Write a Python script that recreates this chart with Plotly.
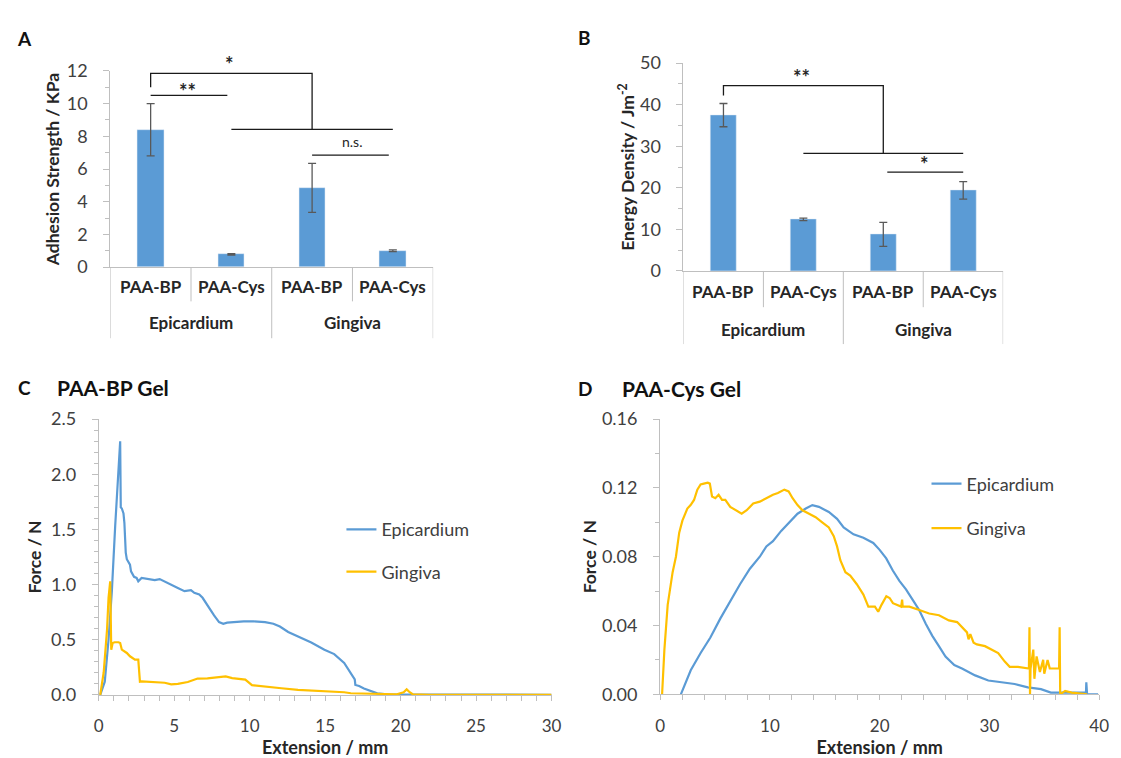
import plotly.graph_objects as go

W, H = 1121, 758
FONT = "Lato, Carlito, Calibri, sans-serif"
BLUE = "#5B9BD5"
GOLD = "#FFC000"
AXIS = "#BFBFBF"
TXT = "#404040"
DARK = "#262626"

# ---------------- data ----------------
subgroups = ["PAA-BP", "PAA-Cys", "PAA-BP", "PAA-Cys"]
groups = ["Epicardium", "Gingiva"]
adhesion_kpa = [8.4, 0.78, 4.85, 1.0]
adhesion_err = [1.6, 0.04, 1.5, 0.05]
energy_jm2 = [37.5, 12.4, 8.8, 19.4]
energy_err = [2.8, 0.3, 2.9, 2.1]

# Panel C (PAA-BP gel) force-extension curves
c_epi_x = [0.1, 0.4, 0.65, 0.87, 1.09, 1.27, 1.42, 1.46, 1.53, 1.64, 1.70, 1.75, 1.79, 1.86, 1.97,
           2.07, 2.14, 2.25, 2.34, 2.51, 2.62, 2.84, 3.27, 3.71, 4.04, 4.37, 4.80, 5.24, 5.68,
           6.11, 6.33, 6.66, 6.88, 7.20, 7.64, 7.97, 8.25, 8.51, 8.95, 9.60, 10.26, 11.02, 11.57,
           12.0, 12.55, 13.2, 14.08, 14.95, 15.6, 16.26, 16.7, 16.96, 17.0, 17.25, 17.57, 18.0,
           18.45, 19.1, 20.2, 21.9, 30.0]
c_epi_y = [0.0, 0.12, 0.50, 0.94, 1.53, 1.97, 2.30, 1.70, 1.69, 1.645, 1.56, 1.41, 1.29, 1.23, 1.20,
           1.18, 1.12, 1.09, 1.07, 1.06, 1.03, 1.06, 1.05, 1.04, 1.05, 1.03, 1.00, 0.97, 0.94,
           0.95, 0.925, 0.91, 0.88, 0.81, 0.72, 0.66, 0.645, 0.655, 0.66, 0.667, 0.667, 0.66, 0.645,
           0.62, 0.57, 0.53, 0.475, 0.41, 0.37, 0.29, 0.19, 0.14, 0.09, 0.08, 0.058, 0.035,
           0.014, 0.006, 0.006, 0.0, 0.0]
c_gin_x = [0.1, 0.33, 0.55, 0.65, 0.76, 0.83, 0.92, 1.05, 1.31, 1.42, 1.53, 1.86, 2.07, 2.40, 2.62,
           2.73, 2.84, 3.71, 4.37, 4.80, 5.24, 5.9, 6.55, 7.2, 7.86, 8.41, 8.84, 9.71, 10.15,
           11.46, 12.1, 13.2, 14.95, 16.26, 16.7, 19.75, 20.2, 20.4, 20.6, 20.8, 21.9, 30.0]
c_gin_y = [0.0, 0.205, 0.59, 0.88, 1.03, 0.41, 0.47, 0.477, 0.477, 0.47, 0.41, 0.38, 0.35, 0.32, 0.32,
           0.12, 0.122, 0.117, 0.11, 0.095, 0.10, 0.117, 0.148, 0.15, 0.16, 0.168, 0.152, 0.138, 0.088,
           0.073, 0.06, 0.045, 0.036, 0.024, 0.015, 0.006, 0.024, 0.05, 0.024, 0.006, 0.0, 0.0]

# Panel D (PAA-Cys gel) force-extension curves
d_epi_x = [1.89, 2.79, 3.69, 4.58, 5.48, 6.38, 7.28, 8.18, 9.08, 9.68, 10.28, 11.03, 11.78, 12.52,
           13.27, 13.87, 14.47, 15.37, 16.12, 16.72, 17.62, 18.52, 19.42, 20.0, 20.6, 21.2, 21.8,
           22.4, 23.0, 23.6, 24.2, 24.8, 25.4, 26.0, 26.8, 27.5, 28.7, 29.9, 31.1, 32.3, 33.5,
           34.7, 35.6, 37.1, 38.8, 38.83, 38.9, 39.9]
d_epi_y = [0.0, 0.014, 0.024, 0.033, 0.044, 0.054, 0.064, 0.073, 0.080, 0.086, 0.089, 0.095, 0.100,
           0.105, 0.108, 0.110, 0.109, 0.106, 0.102, 0.097, 0.093, 0.091, 0.088, 0.084, 0.079, 0.072,
           0.066, 0.061, 0.055, 0.049, 0.041, 0.034, 0.028, 0.022, 0.017, 0.015, 0.011, 0.008, 0.007,
           0.006, 0.004, 0.003, 0.001, 0.001, 0.001, 0.007, 0.0, 0.0]
d_gin_x = [0.18, 0.39, 0.69, 1.14, 1.44, 1.74, 2.03, 2.48, 2.78, 3.09, 3.39, 3.69, 3.98, 4.34, 4.53,
           4.73, 5.03, 5.33, 5.64, 5.94, 6.39, 6.98, 7.43, 7.89, 8.48, 9.08, 9.68, 10.28, 10.73,
           11.32, 11.71, 12.07, 12.52, 12.97, 13.57, 14.17, 14.77, 15.37, 15.82, 16.12, 16.42,
           16.88, 17.32, 17.92, 18.52, 18.97, 19.57, 19.87, 20.17, 20.61, 20.91, 21.21, 21.96,
           22.05, 22.1, 22.71, 23.61, 24.51, 25.41, 26.31, 27.06, 27.51, 27.96, 28.1, 28.26, 28.56,
           28.86, 29.6, 30.2, 30.8, 31.4, 31.85, 32.6, 33.3, 33.6, 33.65, 33.7, 33.75, 34.0, 34.1,
           34.3, 34.6, 34.9, 35.0, 35.3, 35.5, 35.9, 36.2, 36.35, 36.4, 36.45, 36.9, 37.5, 38.9]
d_gin_y = [0.0, 0.026, 0.052, 0.071, 0.080, 0.094, 0.101, 0.108, 0.110, 0.113, 0.119, 0.122, 0.1225,
           0.123, 0.1225, 0.115, 0.114, 0.116, 0.113, 0.113, 0.109, 0.107, 0.105, 0.107, 0.111, 0.112,
           0.114, 0.116, 0.117, 0.119, 0.118, 0.114, 0.110, 0.107, 0.105, 0.103, 0.100, 0.097, 0.092,
           0.086, 0.078, 0.071, 0.069, 0.064, 0.058, 0.051, 0.051, 0.048, 0.052, 0.057, 0.056, 0.053,
           0.051, 0.055, 0.051, 0.051, 0.049, 0.047, 0.046, 0.043, 0.042, 0.039, 0.036, 0.032, 0.035,
           0.030, 0.029, 0.028, 0.026, 0.024, 0.019, 0.016, 0.016, 0.015, 0.015, 0.039, 0.0, 0.015,
           0.026, 0.009, 0.022, 0.013, 0.020, 0.012, 0.020, 0.015, 0.015, 0.015, 0.015, 0.039, 0.0,
           0.002, 0.001, 0.0]

xpos = list(range(len(subgroups)))


def px(x):
    return x / W


def py(y):
    return 1 - y / H


fig = go.Figure()

# ---------------- bar panels ----------------
fig.add_trace(go.Bar(x=xpos, y=adhesion_kpa, width=0.33, marker_color=BLUE,
                     error_y=dict(type="data", array=adhesion_err, color="#595959", thickness=1.3, width=4),
                     xaxis="x", yaxis="y", showlegend=False))
fig.add_trace(go.Bar(x=xpos, y=energy_jm2, width=0.33, marker_color=BLUE,
                     error_y=dict(type="data", array=energy_err, color="#595959", thickness=1.3, width=4),
                     xaxis="x2", yaxis="y2", showlegend=False))

# ---------------- line panels ----------------
fig.add_trace(go.Scatter(x=c_epi_x, y=c_epi_y, mode="lines", name="Epicardium",
                         line=dict(color=BLUE, width=2.2), xaxis="x3", yaxis="y3",
                         legend="legend", legendgroup="ce"))
fig.add_trace(go.Scatter(x=c_gin_x, y=c_gin_y, mode="lines", name="Gingiva",
                         line=dict(color=GOLD, width=2.2), xaxis="x3", yaxis="y3",
                         legend="legend", legendgroup="cg"))
fig.add_trace(go.Scatter(x=d_epi_x, y=d_epi_y, mode="lines", name="Epicardium",
                         line=dict(color=BLUE, width=2.2), xaxis="x4", yaxis="y4",
                         legend="legend2", legendgroup="de"))
fig.add_trace(go.Scatter(x=d_gin_x, y=d_gin_y, mode="lines", name="Gingiva",
                         line=dict(color=GOLD, width=2.2), xaxis="x4", yaxis="y4",
                         legend="legend2", legendgroup="dg"))

tickfont = dict(family=FONT, size=18, color=TXT)
titlefont = dict(family=FONT, size=17.5, color=DARK, weight="bold")


def yax(domain, anchor, rng, dtick, minor, fmt=None, title=None, standoff=10):
    d = dict(domain=domain, anchor=anchor, range=rng, dtick=dtick, tick0=0,
             showline=True, linecolor=AXIS, linewidth=1, ticks="outside", ticklen=6,
             tickcolor=AXIS, showgrid=False, zeroline=False, tickfont=tickfont,
             ticklabelstandoff=12,
             minor=dict(dtick=minor, ticks="outside", ticklen=4, tickcolor=AXIS, showgrid=False),
             title=dict(text=title, font=titlefont, standoff=standoff), fixedrange=True)
    if fmt:
        d["tickformat"] = fmt
    return d


def xline(domain, anchor, rng, dtick, minor, title):
    return dict(domain=domain, anchor=anchor, range=rng, dtick=dtick, tick0=0,
                showline=True, linecolor=AXIS, linewidth=1, ticks="outside", ticklen=5,
                tickcolor=AXIS, showgrid=False, zeroline=False,
                tickfont=dict(family=FONT, size=17, color=TXT),
                ticklabelstandoff=11,
                minor=dict(dtick=minor, ticks="outside", ticklen=5, tickcolor=AXIS, showgrid=False),
                title=dict(text=title, font=dict(family=FONT, size=18, color=DARK, weight="bold"),
                           standoff=3), fixedrange=True)


def xbar(domain, anchor):
    return dict(domain=domain, anchor=anchor, range=[-0.5, len(subgroups) - 0.5],
                showline=True, linecolor=AXIS, linewidth=1, showticklabels=False, ticks="",
                showgrid=False, zeroline=False, fixedrange=True)


A_X = [px(106.7), px(434)]
A_Y = [py(262.7), py(60.7)]
B_X = [px(687.7), px(1011.7)]
B_Y = [py(266.7), py(52.7)]
C_X = [px(95), px(554)]
C_Y = [py(703.3), py(419.3)]
D_X = [px(664), px(1109)]
D_Y = [py(702.7), py(419.3)]

legfont = dict(family=FONT, size=18, color=TXT)
fig.update_layout(
    width=W, height=H, margin=dict(l=0, r=0, t=0, b=0),
    paper_bgcolor="white", plot_bgcolor="white",
    font=dict(family=FONT, color=TXT),
    xaxis=xbar(A_X, "y"),
    yaxis=yax(A_Y, "x", [0, 12], 2, 1, title="Adhesion Strength / KPa", standoff=2),
    xaxis2=xbar(B_X, "y2"),
    yaxis2=yax(B_Y, "x2", [0, 50], 10, 5, title="Energy Density / Jm<sup>-2</sup>", standoff=0),
    xaxis3=xline(C_X, "y3", [0, 30], 5, 1, "Extension / mm"),
    yaxis3=yax(C_Y, "x3", [0, 2.5], 0.5, 0.1, fmt=".1f", title="Force / N", standoff=4),
    xaxis4=xline(D_X, "y4", [0, 40], 10, 2, "Extension / mm"),
    yaxis4=yax(D_Y, "x4", [0, 0.16], 0.04, 0.02, fmt=".2f", title="Force / N", standoff=0),
    legend=dict(x=px(341), y=py(514), xanchor="left", yanchor="top", bgcolor="rgba(0,0,0,0)",
                font=legfont, traceorder="grouped", tracegroupgap=16, itemwidth=30),
    legend2=dict(x=px(934), y=py(467), xanchor="left", yanchor="top", bgcolor="rgba(0,0,0,0)",
                 font=legfont, traceorder="grouped", tracegroupgap=18, itemwidth=30),
    bargap=0,
)

shapes = []
annotations = []

catfont = dict(family=FONT, size=17, color=DARK, weight="bold")
# multi-level category axis labels and dividers for the two bar panels
for xa, ytop, ylow, ygrp, yshort, ylong in [("x", 262.7, 283, 319.5, 298, 336),
                                            ("x2", 266.7, 287.5, 326.5, 304, 342)]:
    for i in range(len(subgroups) + 1):
        b = i - 0.5
        yend = ylong if i % 2 == 0 else yshort
        shapes.append(dict(type="line", xref=xa, yref="paper", x0=b, x1=b, y0=py(ytop), y1=py(yend),
                           line=dict(color=AXIS, width=1)))
    for i, lab in enumerate(subgroups):
        annotations.append(dict(text=lab, xref=xa, yref="paper", x=xpos[i], y=py(ylow), showarrow=False,
                                font=catfont, xanchor="center", yanchor="middle"))
    for g, lab in enumerate(groups):
        annotations.append(dict(text=lab, xref=xa, yref="paper", x=2 * g + 0.5, y=py(ygrp), showarrow=False,
                                font=catfont, xanchor="center", yanchor="middle"))

BR = dict(color="#1a1a1a", width=1.3)
# significance brackets panel A
shapes += [
    dict(type="path", xref="x", yref="y", path="M 0,11.0 L 0,11.85 L 2,11.85 L 2,8.45", line=BR),
    dict(type="line", xref="x", yref="y", x0=1.0, x1=3.0, y0=8.42, y1=8.42, line=BR),
    dict(type="line", xref="x", yref="y", x0=0.0, x1=0.95, y0=10.5, y1=10.5, line=BR),
    dict(type="line", xref="x", yref="y", x0=2.0, x1=2.95, y0=6.85, y1=6.85, line=BR),
]
star = dict(family=FONT, size=20, color=DARK, weight="bold")
annotations += [
    dict(text="*", xref="x", yref="paper", x=0.98, y=py(54), showarrow=False, font=star,
         xanchor="center", yanchor="middle"),
    dict(text="**", xref="x", yref="y", x=0.46, y=10.75, showarrow=False, font=star),
    dict(text="n.s.", xref="x", yref="y", x=2.5, y=7.7, showarrow=False,
         font=dict(family=FONT, size=14, color=DARK)),
]
# significance brackets panel B
shapes += [
    dict(type="path", xref="x2", yref="y2", path="M 0,42.2 L 0,44.6 L 2,44.6 L 2,28.4", line=BR),
    dict(type="line", xref="x2", yref="y2", x0=1.0, x1=3.0, y0=28.3, y1=28.3, line=BR),
    dict(type="line", xref="x2", yref="y2", x0=2.05, x1=3.0, y0=23.8, y1=23.8, line=BR),
]
annotations += [
    dict(text="**", xref="x2", yref="y2", x=0.98, y=46.6, showarrow=False, font=star),
    dict(text="*", xref="x2", yref="y2", x=2.52, y=25.8, showarrow=False, font=star),
]

# panel letters and titles
lab = dict(family=FONT, size=19, color="#111111", weight="bold")
ttl = dict(family=FONT, size=21, color="#111111", weight="bold")
annotations += [
    dict(text="A", xref="paper", yref="paper", x=px(20), y=py(27), showarrow=False, font=lab,
         xanchor="center", yanchor="middle"),
    dict(text="B", xref="paper", yref="paper", x=px(587), y=py(26), showarrow=False, font=lab,
         xanchor="center", yanchor="middle"),
    dict(text="C", xref="paper", yref="paper", x=px(20), y=py(387), showarrow=False, font=lab,
         xanchor="center", yanchor="middle"),
    dict(text="D", xref="paper", yref="paper", x=px(588), y=py(388), showarrow=False, font=lab,
         xanchor="center", yanchor="middle"),
    dict(text="PAA-BP Gel", xref="paper", yref="paper", x=px(51), y=py(387), xanchor="left",
         yanchor="middle", showarrow=False, font=ttl),
    dict(text="PAA-Cys Gel", xref="paper", yref="paper", x=px(623), y=py(388), xanchor="left",
         yanchor="middle", showarrow=False, font=ttl),
]

fig.update_layout(shapes=shapes, annotations=annotations)
fig.write_html("out.html")
